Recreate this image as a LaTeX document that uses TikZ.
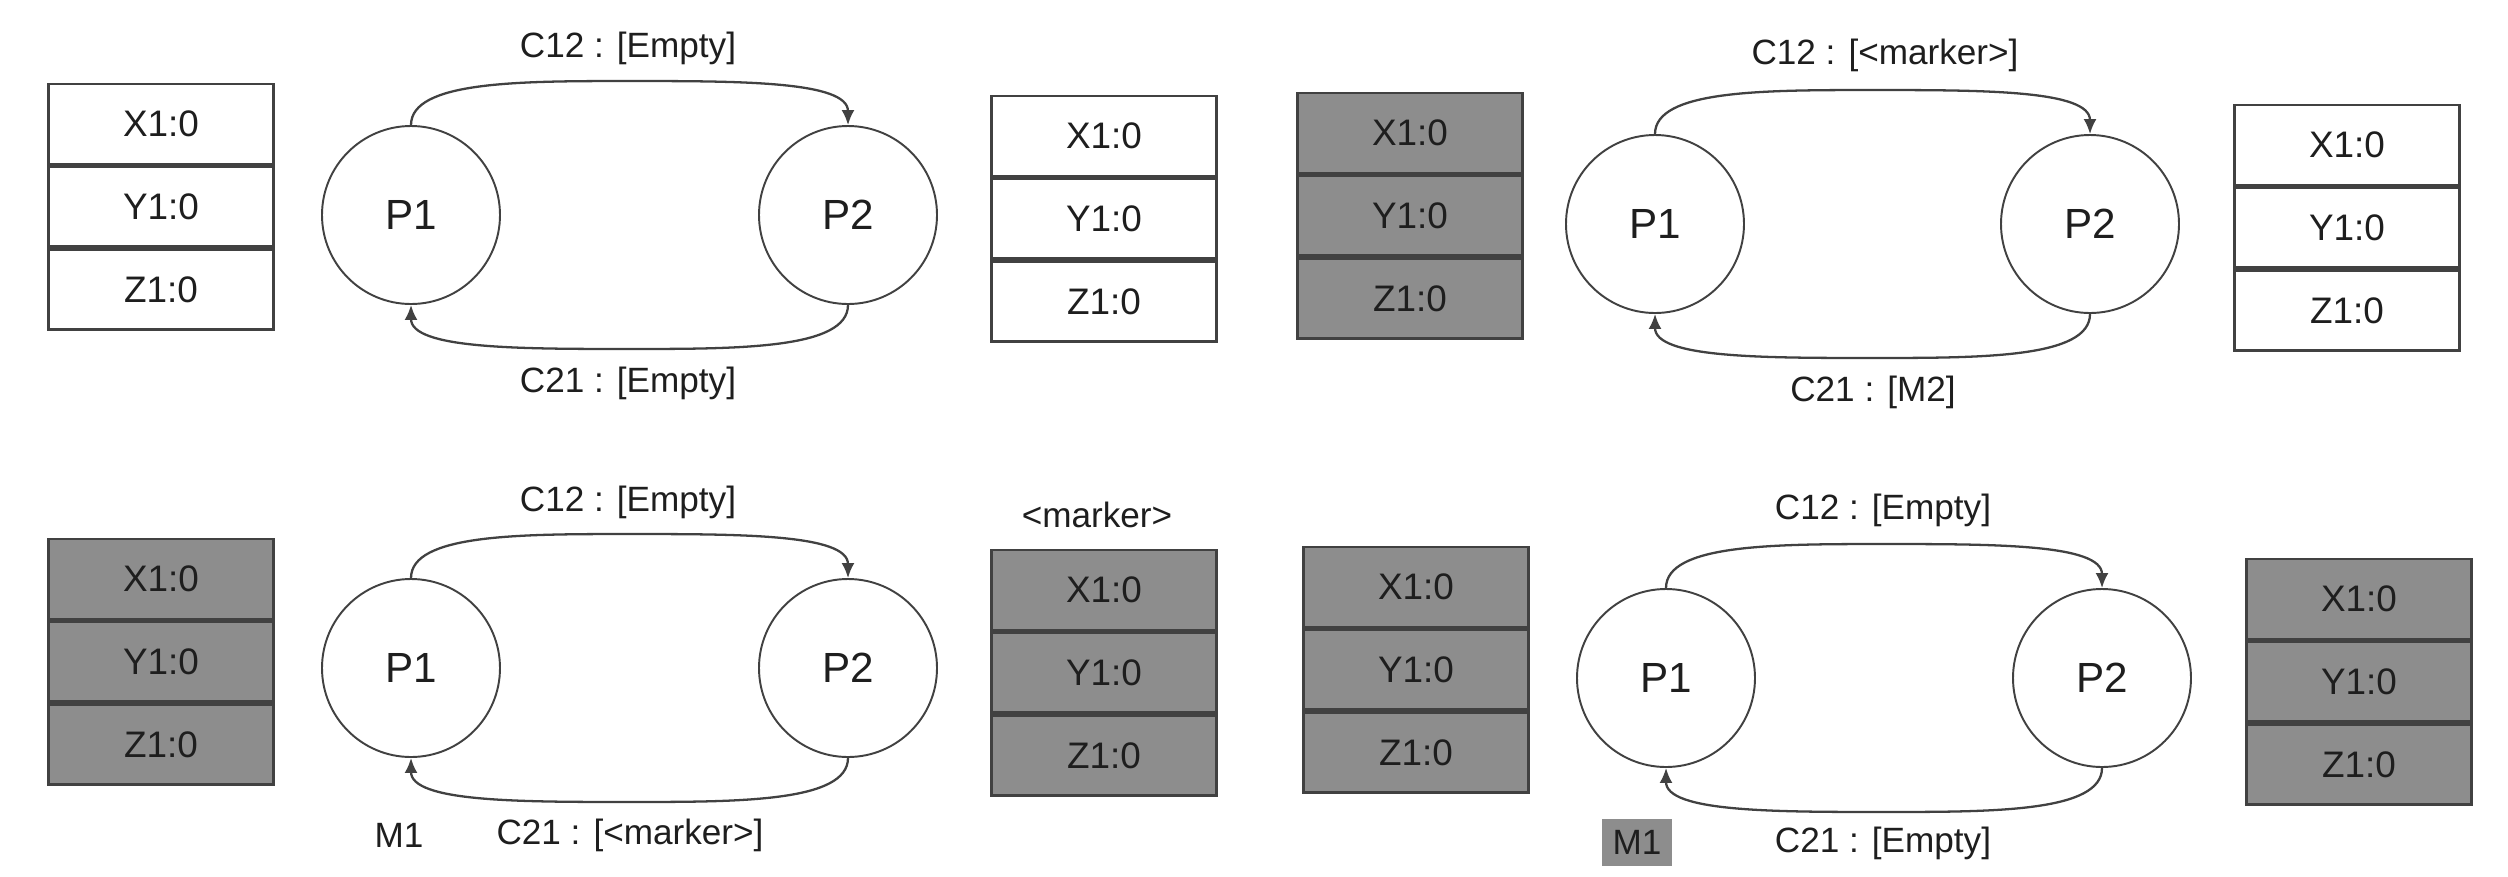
\documentclass[tikz,border=0pt]{standalone}
\usepackage{fontspec}
\setmainfont{Liberation Sans}
\usetikzlibrary{arrows.meta,positioning,calc}
\definecolor{cellgray}{RGB}{141,141,141}
\definecolor{linegray}{RGB}{65,65,65}
\definecolor{inkgray}{RGB}{30,30,30}

\begin{document}
\begin{tikzpicture}[x=0.1mm,y=-0.1mm,
    cell/.style={draw=linegray,line width=0.8pt,minimum width=22.5mm,minimum height=8mm,
      inner sep=0pt,font=\fontsize{10.5}{12}\selectfont,text=inkgray},
    shaded/.style={cell,fill=cellgray},
    proc/.style={circle,draw=linegray,line width=0.55pt,minimum size=17.8mm,inner sep=0pt,
      font=\fontsize{12}{14}\selectfont,text=inkgray},
    lbl/.style={font=\fontsize{10}{12}\selectfont,text=inkgray,inner sep=0pt},
    link/.style={draw=linegray,line width=0.65pt,-{Latex[length=1.5mm,width=1.3mm]}}]

  \fill[white] (0,0) rectangle (2508,876);
  \useasboundingbox (0,0) rectangle (2508,876);

  % top left: nothing recorded yet
  \node[cell] (aX) at (161,124) {X1:0};
  \node[cell,below=0pt of aX] (aY) {Y1:0};
  \node[cell,below=0pt of aY] (aZ) {Z1:0};
  \node[proc] (aP1) at (411,215) {P1};
  \node[proc] (aP2) at (848,215) {P2};
  \node[cell] (aX2) at (1104,136) {X1:0};
  \node[cell,below=0pt of aX2] (aY2) {Y1:0};
  \node[cell,below=0pt of aY2] (aZ2) {Z1:0};
  \draw[link] (aP1.north) .. controls +(0,-44) and +(-110,0) .. ($(aP1.north)!.5!(aP2.north)+(0,-44)$)
    .. controls +(110,0) and +(0,-44) .. (aP2.north);
  \draw[link] (aP2.south) .. controls +(0,44) and +(110,0) .. ($(aP1.south)!.5!(aP2.south)+(0,44)$)
    .. controls +(-110,0) and +(0,44) .. (aP1.south);
  \node[lbl] (aC12) at (628,48) {C12 : [Empty]};
  \node[lbl] (aC21) at (628,383) {C21 : [Empty]};

  % top right: P1 has recorded its state
  \node[shaded] (bX) at (1410,133) {X1:0};
  \node[shaded,below=0pt of bX] (bY) {Y1:0};
  \node[shaded,below=0pt of bY] (bZ) {Z1:0};
  \node[proc] (bP1) at (1655,224) {P1};
  \node[proc] (bP2) at (2090,224) {P2};
  \node[cell] (bX2) at (2347,145) {X1:0};
  \node[cell,below=0pt of bX2] (bY2) {Y1:0};
  \node[cell,below=0pt of bY2] (bZ2) {Z1:0};
  \draw[link] (bP1.north) .. controls +(0,-44) and +(-110,0) .. ($(bP1.north)!.5!(bP2.north)+(0,-44)$)
    .. controls +(110,0) and +(0,-44) .. (bP2.north);
  \draw[link] (bP2.south) .. controls +(0,44) and +(110,0) .. ($(bP1.south)!.5!(bP2.south)+(0,44)$)
    .. controls +(-110,0) and +(0,44) .. (bP1.south);
  \node[lbl] (bC12) at (1885,55) {C12 : [<marker>]};
  \node[lbl] (bC21) at (1873,392) {C21 : [M2]};

  % bottom left: P2 has recorded its state
  \node[shaded] (cX) at (161,579) {X1:0};
  \node[shaded,below=0pt of cX] (cY) {Y1:0};
  \node[shaded,below=0pt of cY] (cZ) {Z1:0};
  \node[proc] (cP1) at (411,668) {P1};
  \node[proc] (cP2) at (848,668) {P2};
  \node[shaded] (cX2) at (1104,590) {X1:0};
  \node[shaded,below=0pt of cX2] (cY2) {Y1:0};
  \node[shaded,below=0pt of cY2] (cZ2) {Z1:0};
  \node[lbl] (cmark) at (1097,515) {<marker>};
  \draw[link] (cP1.north) .. controls +(0,-44) and +(-110,0) .. ($(cP1.north)!.5!(cP2.north)+(0,-44)$)
    .. controls +(110,0) and +(0,-44) .. (cP2.north);
  \draw[link] (cP2.south) .. controls +(0,44) and +(110,0) .. ($(cP1.south)!.5!(cP2.south)+(0,44)$)
    .. controls +(-110,0) and +(0,44) .. (cP1.south);
  \node[lbl] (cC12) at (628,502) {C12 : [Empty]};
  \node[lbl] (cC21) at (630,835) {C21 : [<marker>]};
  \node[lbl] (cM1) at (399,835) {M1};

  % bottom right: both states recorded
  \node[shaded] (dX) at (1416,587) {X1:0};
  \node[shaded,below=0pt of dX] (dY) {Y1:0};
  \node[shaded,below=0pt of dY] (dZ) {Z1:0};
  \node[proc] (dP1) at (1666,678) {P1};
  \node[proc] (dP2) at (2102,678) {P2};
  \node[shaded] (dX2) at (2359,599) {X1:0};
  \node[shaded,below=0pt of dX2] (dY2) {Y1:0};
  \node[shaded,below=0pt of dY2] (dZ2) {Z1:0};
  \draw[link] (dP1.north) .. controls +(0,-44) and +(-110,0) .. ($(dP1.north)!.5!(dP2.north)+(0,-44)$)
    .. controls +(110,0) and +(0,-44) .. (dP2.north);
  \draw[link] (dP2.south) .. controls +(0,44) and +(110,0) .. ($(dP1.south)!.5!(dP2.south)+(0,44)$)
    .. controls +(-110,0) and +(0,44) .. (dP1.south);
  \node[lbl] (dC12) at (1883,510) {C12 : [Empty]};
  \node[lbl] (dC21) at (1883,843) {C21 : [Empty]};
  \node[lbl,fill=cellgray,minimum width=7mm,minimum height=4.7mm] (dM1) at (1637,842) {M1};
\end{tikzpicture}
\end{document}
